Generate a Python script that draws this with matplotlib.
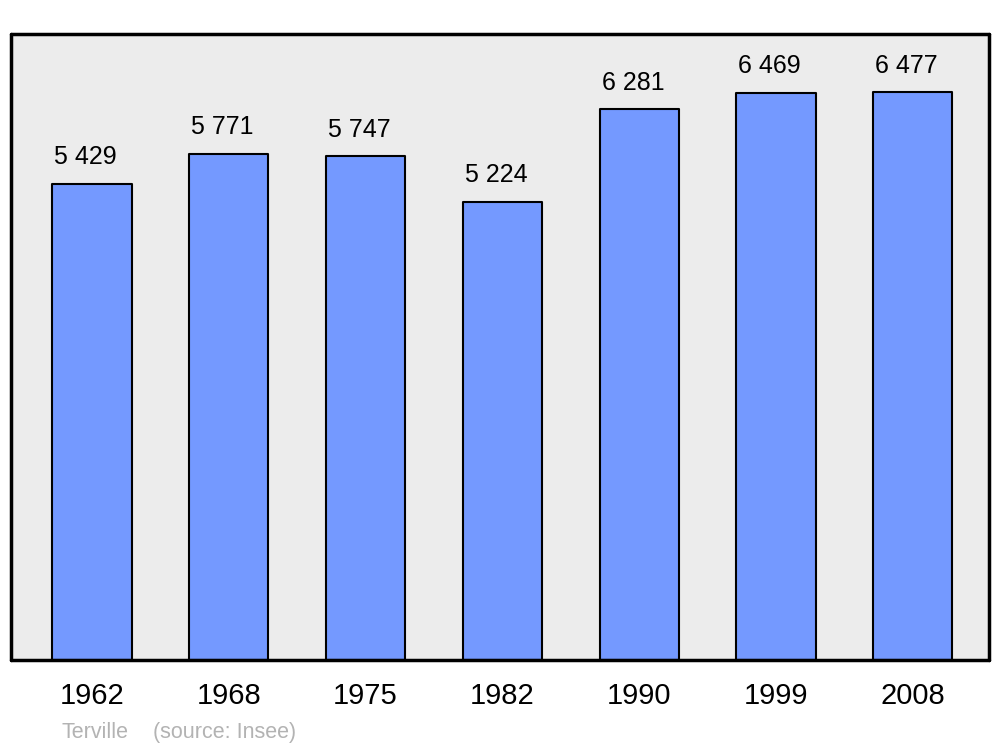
import numpy as np
import matplotlib
matplotlib.use("Agg")
import matplotlib.pyplot as plt

years = ["1962", "1968", "1975", "1982", "1990", "1999", "2008"]
population = [5429, 5771, 5747, 5224, 6281, 6469, 6477]
value_labels = ["5 429", "5 771", "5 747", "5 224", "6 281", "6 469", "6 477"]

plt.rcParams['font.family'] = ['Liberation Sans', 'DejaVu Sans']

fig = plt.figure(figsize=(10, 7.47), dpi=100)
# axes box in pixel coords: x 11..989, y 34..660
W, H = 1000, 747
ax = fig.add_axes([11 / W, 1 - 660 / H, (989 - 11) / W, (660 - 34) / H])
ax.set_facecolor('#ececec')

x = np.arange(len(years))
bars = ax.bar(x, population, width=0.578, color='#7499ff', edgecolor='black',
              linewidth=1.5, zorder=2)
for b in bars:
    b.set_joinstyle('round')

ax.set_xlim(-0.592, 6.557)
ax.set_ylim(0, 7138)

# value labels above bars
for xi, v, lab in zip(x, population, value_labels):
    ax.annotate(lab, (xi, v), xytext=(-4.5, 14), textcoords='offset points',
                ha='center', va='baseline', fontsize=18)

# year labels under the axes
ax.set_xticks(x)
ax.set_xticklabels(years, fontsize=21)
ax.tick_params(axis='x', length=0, pad=16)
ax.set_yticks([])

for s in ax.spines.values():
    s.set_linewidth(2.5)
    s.set_capstyle('round')
    s.set_joinstyle('round')

fig.text(61 / W, 1 - 738 / H, "Terville", color='#b3b3b3', fontsize=15.5,
         va='baseline')
fig.text(153 / W, 1 - 738 / H, "(source: Insee)", color='#b3b3b3', fontsize=15.5,
         va='baseline')

fig.savefig('out.png', dpi=100)
